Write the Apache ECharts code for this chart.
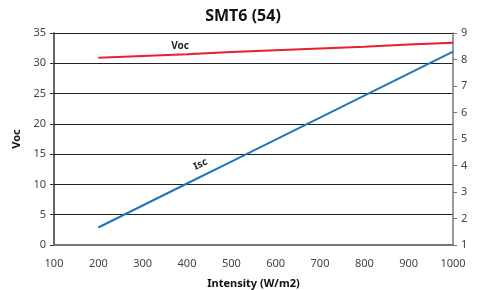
<!DOCTYPE html>
<html lang="en" style="height: 100%">
<head>
<meta charset="utf-8">
<title>SMT6 (54)</title>
</head>
<body style="height: 100%; margin: 0">
<div id="container" style="width: 486px; height: 290px"></div>
<script type="text/javascript" src="https://cdn.jsdelivr.net/npm/echarts@6/dist/echarts.min.js"></script>
<script type="text/javascript">
// values
var intensity = [200, 300, 400, 500, 600, 700, 800, 900, 1000];
var vocValues = [30.9, 31.2, 31.5, 31.85, 32.15, 32.45, 32.75, 33.1, 33.4];
var iscValues = [1.66, 2.49, 3.32, 4.15, 4.98, 5.81, 6.64, 7.47, 8.3];
var labelIndex = 2;

var font = 'Noto Sans';
var dom = document.getElementById('container');
var myChart = echarts.init(dom, null, { renderer: 'canvas' });

function pairs(vals, labelCfg) {
  return intensity.map(function (x, i) {
    var item = { value: [x, vals[i]] };
    if (i === labelIndex) item.label = labelCfg;
    return item;
  });
}

var option = {
  animation: false,
  title: {
    text: 'SMT6 (54)',
    left: 'center',
    top: 3,
    textStyle: { fontFamily: font, fontSize: 16, fontWeight: 'bold', color: '#111' }
  },
  grid: { left: 54, right: 33, top: 33, bottom: 45, outerBoundsMode: 'none', containLabel: false },
  xAxis: {
    type: 'value',
    min: 100,
    max: 1000,
    interval: 100,
    name: 'Intensity (W/m2)',
    nameLocation: 'middle',
    nameGap: 33,
    nameTextStyle: { fontFamily: font, fontSize: 11, fontWeight: 'bold', color: '#111' },
    axisLine: { lineStyle: { color: '#777', width: 2 } },
    axisTick: { show: false },
    axisLabel: { fontFamily: font, fontSize: 11, color: '#444', margin: 13, formatter: function (v) { return String(v); } },
    splitLine: { show: false }
  },
  yAxis: [
    {
      type: 'value',
      min: 0,
      max: 35,
      interval: 5,
      name: 'Voc',
      nameLocation: 'middle',
      nameGap: 23,
      nameTextStyle: { fontFamily: font, fontSize: 11, fontWeight: 'bold', color: '#111' },
      axisLine: { show: true, lineStyle: { color: '#333', width: 1.5 } },
      axisTick: { show: true, length: 4, lineStyle: { color: '#333' } },
      axisLabel: { fontFamily: font, fontSize: 11, color: '#444', margin: 8 },
      splitLine: { show: true, lineStyle: { color: '#222', width: 1 } }
    },
    {
      type: 'value',
      min: 1,
      max: 9,
      interval: 1,
      position: 'right',
      name: 'Isc',
      nameLocation: 'middle',
      nameGap: 38,
      nameTextStyle: { fontFamily: font, fontSize: 11, fontWeight: 'bold', color: '#111' },
      axisLine: { show: true, lineStyle: { color: '#777', width: 1.5 } },
      axisTick: { show: true, length: 4, lineStyle: { color: '#777' } },
      axisLabel: { fontFamily: font, fontSize: 11, color: '#444', margin: 8 },
      splitLine: { show: false }
    }
  ],
  series: [
    {
      name: 'Voc',
      type: 'line',
      yAxisIndex: 0,
      symbol: 'circle',
      symbolSize: 0,
      lineStyle: { color: '#e8202a', width: 2 },
      itemStyle: { color: '#e8202a' },
      label: { show: false },
      data: pairs(vocValues, {
        show: true, position: 'top', distance: 3, offset: [-7, 0],
        formatter: 'Voc', fontFamily: font, fontSize: 10, fontWeight: 'bold', color: '#222'
      })
    },
    {
      name: 'Isc',
      type: 'line',
      yAxisIndex: 1,
      symbol: 'circle',
      symbolSize: 0,
      lineStyle: { color: '#1f74c2', width: 2 },
      itemStyle: { color: '#1f74c2' },
      label: { show: false },
      data: pairs(iscValues, {
        show: true, position: 'top', distance: 6, offset: [18, -1], rotate: 26,
        formatter: 'Isc', fontFamily: font, fontSize: 10, fontWeight: 'bold', color: '#222'
      })
    }
  ]
};

myChart.setOption(option);
window.addEventListener('resize', myChart.resize);
</script>
</body>
</html>
